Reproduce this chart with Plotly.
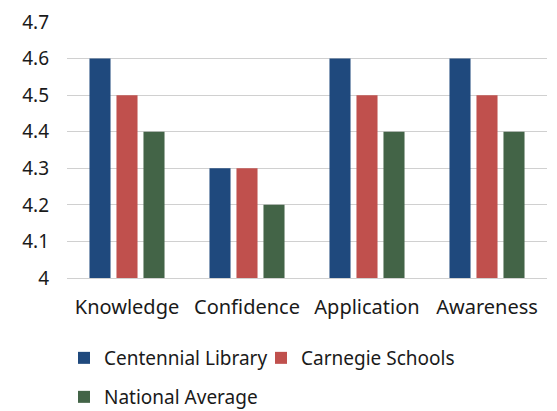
import plotly.graph_objects as go

# Survey outcome ratings by group
CATEGORIES = ["Knowledge", "Confidence", "Application", "Awareness"]
CENTENNIAL = [4.6, 4.3, 4.6, 4.6]
CARNEGIE = [4.5, 4.3, 4.5, 4.5]
NATIONAL = [4.4, 4.2, 4.4, 4.4]

SERIES = [
    ("Centennial Library", CENTENNIAL, "#1f497d", "legend2"),
    ("Carnegie Schools", CARNEGIE, "#c0504d", "legend3"),
    ("National Average", NATIONAL, "#436447", "legend4"),
]

FONT = "Noto Sans, Open Sans, sans-serif"
W, H = 557, 411

fig = go.Figure()
for name, vals, colour, leg in SERIES:
    fig.add_trace(go.Bar(
        x=CATEGORIES,
        y=vals,
        name=name,
        legend=leg,
        marker=dict(color=colour, line=dict(width=0)),
    ))


def legend_at(px_x, px_y):
    # each series gets its own legend box placed in pixel terms
    return dict(
        xref="container", yref="container",
        x=px_x / W, y=1 - px_y / H,
        xanchor="left", yanchor="middle",
        orientation="h",
        font=dict(size=19, color="#1a1a1a"),
        bgcolor="rgba(0,0,0,0)",
    )


fig.update_layout(
    width=W,
    height=H,
    margin=dict(l=67, r=10, t=22, b=133),
    paper_bgcolor="white",
    plot_bgcolor="white",
    barmode="group",
    bargap=0.325,
    bargroupgap=0.22,
    font=dict(family=FONT, size=20, color="#1a1a1a"),
    xaxis=dict(
        showgrid=False,
        showline=True,
        linecolor="#d0d0d0",
        linewidth=1,
        ticks="",
        ticklabelstandoff=11,
        tickfont=dict(size=20),
    ),
    yaxis=dict(
        range=[4, 4.7],
        dtick=0.1,
        showgrid=True,
        gridcolor="#d0d0d0",
        gridwidth=1,
        zeroline=False,
        ticks="",
        ticklabelstandoff=17,
        tickfont=dict(size=19),
    ),
    legend2=legend_at(64, 358),
    legend3=legend_at(261, 358),
    legend4=legend_at(64, 397),
)

# drop the page's default body margin so the figure sits at the window corner
fig.write_html(
    "out.html",
    config={"displayModeBar": False},
    post_script="document.body.style.margin='0';",
)
